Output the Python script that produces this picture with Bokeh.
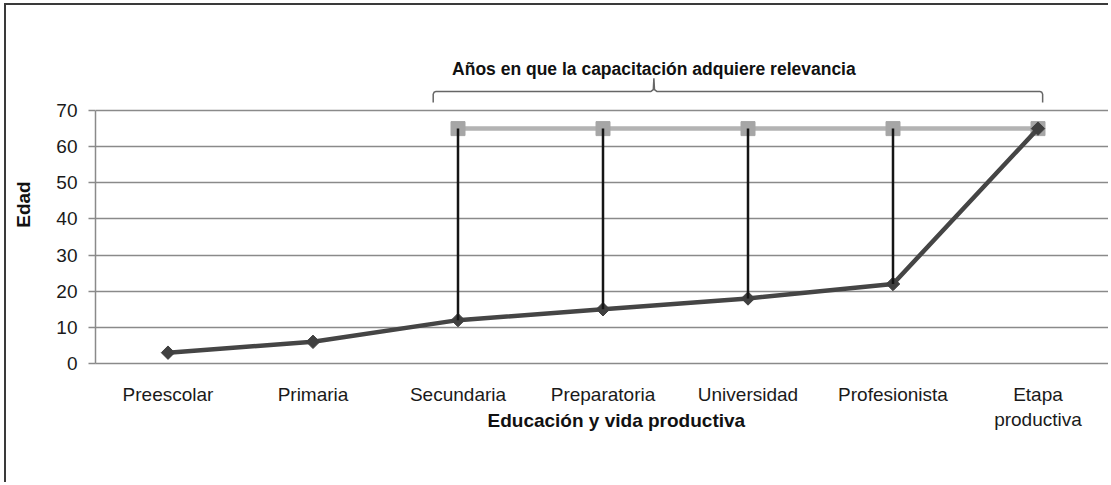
from bokeh.plotting import figure
from bokeh.models import Range1d, Title, FixedTicker
from bokeh.core.properties import value
from bokeh.embed import file_html
from bokeh.resources import INLINE

# ---------------- data ----------------
categories = ["Preescolar", "Primaria", "Secundaria", "Preparatoria",
              "Universidad", "Profesionista", "Etapa\nproductiva"]
edad = [3, 6, 12, 15, 18, 22, 65]
rel_categories = ["Secundaria", "Preparatoria", "Universidad",
                  "Profesionista", "Etapa\nproductiva"]
rel_values = [65, 65, 65, 65, 65]
rel_edad = [12, 15, 18, 22, 65]
y_ticks = [0, 10, 20, 30, 40, 50, 60, 70]

title_text = "Años en que la capacitación adquiere relevancia"
x_title = "Educación y vida productiva"
y_title = "Edad"

# category -> centre of its band on a numeric axis
def cx(c):
    return categories.index(c) + 0.5

x_all = [cx(c) for c in categories]
x_rel = [cx(c) for c in rel_categories]

FONT = "Liberation Sans"
GRID = "#8a8a8a"

p = figure(width=1104, height=479,
           x_range=Range1d(0, len(categories)), y_range=Range1d(0, 88),
           output_backend="svg", toolbar_location=None,
           min_border_left=89, min_border_right=0,
           min_border_top=40, min_border_bottom=121)
p.styles = {"margin-left": "4px", "margin-top": "3px",
            "border-left": "2px solid #3a3a3a", "border-top": "2px solid #3a3a3a"}
p.outline_line_color = None
p.background_fill_color = "white"
p.border_fill_color = "white"

# grid
p.xgrid.visible = False
p.ygrid.ticker = FixedTicker(ticks=y_ticks)
p.ygrid.grid_line_color = GRID
p.ygrid.grid_line_width = 1.5

# y axis
p.yaxis.ticker = FixedTicker(ticks=y_ticks)
p.yaxis.bounds = (0, 70)
p.yaxis.axis_line_color = GRID
p.yaxis.axis_line_width = 1.5
p.yaxis.major_tick_line_color = GRID
p.yaxis.major_tick_line_width = 1.5
p.yaxis.major_tick_out = 7
p.yaxis.major_tick_in = 0
p.yaxis.minor_tick_line_color = None
p.yaxis.major_label_standoff = 11
p.yaxis.major_label_text_font = FONT
p.yaxis.major_label_text_font_size = "19px"
p.yaxis.major_label_text_color = "#1a1a1a"
p.yaxis.axis_label = y_title
p.yaxis.axis_label_text_font = FONT
p.yaxis.axis_label_text_font_size = "19px"
p.yaxis.axis_label_text_font_style = "bold"
p.yaxis.axis_label_text_color = "#111111"
p.yaxis.axis_label_standoff = 19

# x axis
p.xaxis.ticker = FixedTicker(ticks=x_all)
p.xaxis.major_label_overrides = {x: c for x, c in zip(x_all, categories)}
p.xaxis.axis_line_color = GRID
p.xaxis.axis_line_width = 1.5
p.xaxis.major_tick_line_color = None
p.xaxis.minor_tick_line_color = None
p.xaxis.major_label_standoff = 14
p.xaxis.major_label_text_font = FONT
p.xaxis.major_label_text_font_size = "19px"
p.xaxis.major_label_text_color = "#1a1a1a"

# series
p.line(x_rel, rel_values, line_color="#b3b3b3", line_width=4.5)
p.scatter(x_rel, rel_values, marker="square", size=14,
          fill_color="#a6a6a6", line_color="#a6a6a6")
p.line(x_all, edad, line_color="#454545", line_width=4.5)
p.scatter(x_all, edad, marker="square", angle=0.7854, size=9.5,
          fill_color="#404040", line_color="#404040")
p.segment(x0=x_rel, y0=rel_edad, x1=x_rel, y1=rel_values,
          line_color="#151515", line_width=2.5)

# bracket + title (annotation layout)
L, R, C = 2.329, 6.532, 3.851
yb, yh, yp = 72.2, 75.3, 78.9
bx = [L, L, L + 0.006, L + 0.02, C - 0.02, C - 0.004, C, C + 0.004, C + 0.02,
      R - 0.02, R - 0.006, R, R]
by = [yb, yh - 0.8, yh - 0.25, yh, yh, yh + 0.5, yp, yh + 0.5, yh,
      yh, yh - 0.25, yh - 0.8, yb]
p.line(bx, by, line_color="#666666", line_width=1.5)
p.text(x=[C], y=[81.6], text=[title_text],
       text_font=value(FONT), text_font_style="bold", text_font_size="17.5px",
       text_align="center", text_baseline="middle", text_color="#111111")

# x axis title, placed under the category labels
p.add_layout(Title(text=x_title, align="left", offset=392, standoff=-46,
                   vertical_align="top",
                   text_font=FONT, text_font_style="bold", text_font_size="19px",
                   text_color="#111111"), "below")

open("out.html", "w").write(file_html(p, INLINE))
